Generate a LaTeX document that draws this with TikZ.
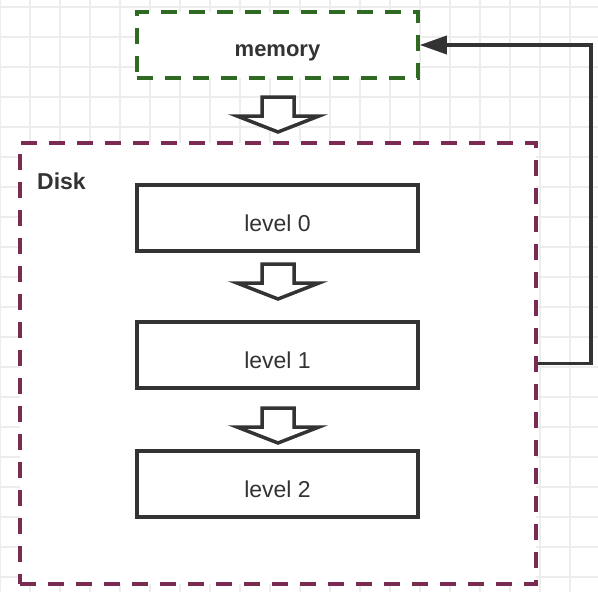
\documentclass[tikz,border=0pt]{standalone}
\usepackage{fontspec}
\setmainfont{Liberation Sans}
\usepackage{xcolor}
\usepackage{tikz}
\usetikzlibrary{arrows.meta}

\definecolor{gridgray}{HTML}{EDEDED}
\definecolor{inkgray}{HTML}{333333}
\definecolor{memgreen}{HTML}{2F6A22}
\definecolor{diskred}{HTML}{7B2A52}

\tikzset{
  gridline/.style={draw=gridgray,line width=1.2pt},
  levelbox/.style={draw=inkgray,line width=3.5pt,fill=white,minimum width=281pt,minimum height=66pt,
    text=inkgray,font=\fontsize{23}{27}\selectfont,text height=26pt,text depth=0pt},
  dashbox/.style={line width=3.5pt,dash pattern=on 16pt off 12pt,fill=white},
  blockarrow/.style={draw=inkgray,line width=3.5pt,fill=white,line join=miter},
  conn/.style={draw=inkgray,line width=3.5pt,-{Triangle[length=27pt,width=18pt]}}
}

\begin{document}
\begin{tikzpicture}[x=1pt,y=-1pt]

        % Page frame (pixel coordinates, y grows downwards)
        \useasboundingbox (0,0) rectangle (598,592);

        % Background grid
        \foreach \x in {0,30,...,590}
        {
            \draw[gridline] (\x,0) -- (\x,592);
        }
        \foreach \y in {7,37,...,590}
        {
            \draw[gridline] (0,\y) -- (598,\y);
        }

        % Disk: big dashed frame
        \node[dashbox,draw=diskred,minimum width=516pt,minimum height=441pt] (disk) at (278,363.5) {};
        \node[anchor=base west,inner sep=0pt,text=inkgray,font=\fontsize{23}{27}\selectfont\bfseries] (disklabel) at (37,189) {Disk};

        % memory: dashed box on top
        \node[dashbox,draw=memgreen,minimum width=281pt,minimum height=66pt,text=inkgray,
              font=\fontsize{22}{26}\selectfont\bfseries,text height=22pt,text depth=0pt] (memory) at (277.5,45) {memory};

        % Levels inside the disk
        \node[levelbox] (lvl0) at (277.5,218) {level 0};
        \node[levelbox] (lvl1) at (277.5,355) {level 1};
        \node[levelbox] (lvl2) at (277.5,484) {level 2};

        % Block arrows between the boxes (top of the shaft)
        \foreach \t in {97,264,408}
        {
            \draw[blockarrow] (262,\t) -- (294,\t) -- (294,\t+19) -- (319,\t+19)
                -- (278,\t+35) -- (237,\t+19) -- (262,\t+19) -- cycle;
        }

        % Flush back from disk to memory
        \draw[conn] (disk.east) -- ++(53,0) |- (memory.east);

\end{tikzpicture}
\end{document}
